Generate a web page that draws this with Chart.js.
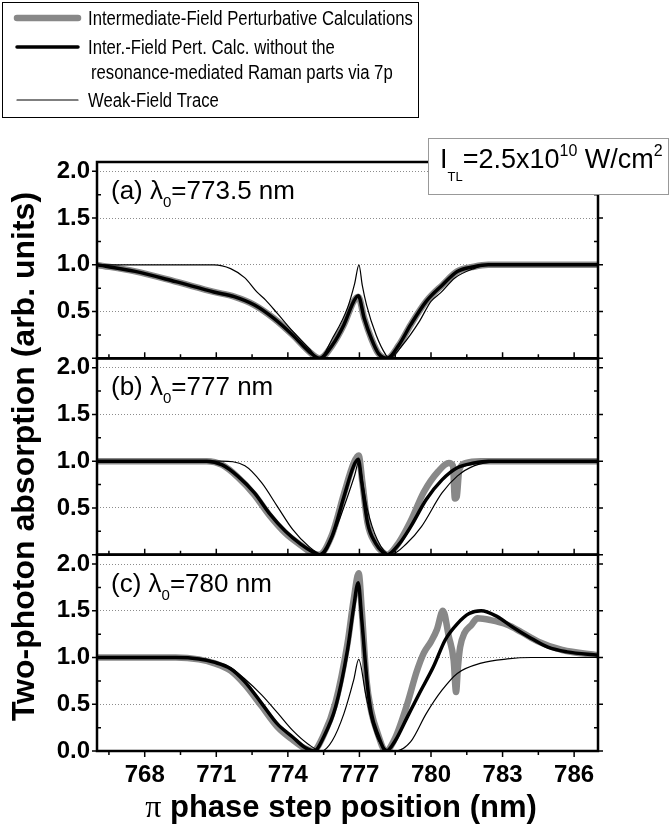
<!DOCTYPE html>
<html>
<head>
<meta charset="utf-8">
<script src="https://cdn.jsdelivr.net/npm/chart.js@4.4.1/dist/chart.umd.min.js"></script>
<style>
  html, body { margin: 0; padding: 0; background: #fff; }
  canvas { display: block; }
</style>
</head>
<body>
<canvas id="myChart" width="672" height="835"></canvas>
<script>
// panel (a), lambda0 = 773.5 nm
const aGrayX  = [766, 767.6, 769.3, 770.9, 771.75, 772.6, 773.4, 774.2, 774.9, 775.33, 775.86, 776.35, 776.76, 776.95, 777.2, 777.5, 777.8, 778.16, 778.65, 779.15, 779.8, 780.5, 781.1, 781.8, 782.4, 787];
const aGrayY  = [1.0, 0.93, 0.82, 0.71, 0.66, 0.57, 0.43, 0.25, 0.07, 0, 0.14, 0.36, 0.61, 0.66, 0.43, 0.21, 0.05, 0, 0.14, 0.36, 0.61, 0.79, 0.93, 0.98, 1.0, 1.0];
const aBlackX = [766, 767.6, 769.3, 770.9, 771.75, 772.6, 773.4, 774.2, 774.9, 775.33, 775.86, 776.35, 776.76, 776.95, 777.2, 777.5, 777.8, 778.16, 778.65, 779.15, 779.8, 780.5, 781.1, 781.8, 782.4, 787];
const aBlackY = [1.0, 0.93, 0.82, 0.71, 0.66, 0.57, 0.43, 0.25, 0.07, 0, 0.14, 0.36, 0.61, 0.67, 0.43, 0.21, 0.05, 0, 0.14, 0.36, 0.61, 0.79, 0.93, 0.98, 1.0, 1.0];
const aThinX  = [766, 770.9, 771.6, 772.2, 772.7, 773.06, 773.56, 774.2, 774.87, 775.33, 775.86, 776.5, 776.8, 776.98, 777.12, 777.3, 777.7, 778.1, 778.25, 778.8, 779.5, 780.0, 780.4, 781.0, 781.8, 782.4, 787];
const aThinY  = [1.0, 1.0, 0.96, 0.86, 0.71, 0.625, 0.48, 0.29, 0.11, 0, 0.21, 0.54, 0.8, 1.0, 0.78, 0.57, 0.25, 0.04, 0, 0.14, 0.39, 0.61, 0.70, 0.86, 0.96, 1.0, 1.0];

// panel (b), lambda0 = 777 nm
const bGrayX  = [766, 770.6, 771.25, 771.9, 772.6, 773.2, 773.9, 774.55, 775.0, 775.3, 775.86, 776.35, 776.76, 776.97, 777.12, 777.34, 777.67, 778.0, 778.16, 778.65, 779.15, 779.7, 780.3, 780.75, 780.92, 781.0, 781.08, 781.18, 781.45, 782.1, 787];
const bGrayY  = [1.0, 1.0, 0.96, 0.83, 0.64, 0.43, 0.23, 0.1, 0.02, 0, 0.22, 0.65, 0.98, 1.06, 0.78, 0.34, 0.12, 0.02, 0, 0.13, 0.36, 0.67, 0.89, 0.98, 0.95, 0.6, 0.62, 0.9, 0.98, 1.0, 1.0];
const bBlackX = [766, 770.6, 771.25, 771.9, 772.6, 773.2, 773.9, 774.55, 775.04, 775.33, 775.86, 776.35, 776.76, 776.95, 777.1, 777.34, 777.67, 778.0, 778.16, 778.65, 779.15, 779.8, 780.46, 781.1, 781.8, 782.4, 787];
const bBlackY = [1.0, 1.0, 0.96, 0.84, 0.66, 0.45, 0.25, 0.11, 0.03, 0, 0.2, 0.62, 0.95, 1.02, 0.77, 0.34, 0.125, 0.02, 0, 0.11, 0.30, 0.59, 0.80, 0.93, 0.98, 1.0, 1.0];
const bThinX  = [766, 771.2, 772.2, 772.9, 773.55, 774.2, 774.87, 775.45, 776.0, 776.5, 776.8, 776.98, 777.15, 777.34, 777.75, 778.3, 779.0, 779.6, 780.46, 781.1, 781.8, 782.75, 787];
const bThinY  = [1.0, 1.0, 0.95, 0.77, 0.52, 0.27, 0.09, 0, 0.27, 0.62, 0.85, 1.0, 0.75, 0.48, 0.16, 0, 0.125, 0.30, 0.66, 0.84, 0.95, 0.99, 1.0];

// panel (c), lambda0 = 780 nm
const cGrayX  = [766, 769.3, 770.27, 770.9, 771.6, 772.2, 772.9, 773.56, 774.2, 774.7, 775.05, 775.5, 776.0, 776.5, 776.76, 776.97, 777.1, 777.3, 777.5, 777.75, 778.1, 778.5, 779.0, 779.4, 779.7, 780.0, 780.25, 780.5, 780.75, 780.95, 781.05, 781.13, 781.22, 781.4, 781.7, 781.95, 782.5, 783.2, 783.8, 784.5, 785.5, 787];
const cGrayY  = [1.0, 1.0, 0.98, 0.94, 0.86, 0.71, 0.48, 0.26, 0.12, 0.03, 0, 0.17, 0.52, 1.15, 1.62, 1.9, 1.5, 0.75, 0.42, 0.2, 0, 0.14, 0.5, 0.85, 1.05, 1.17, 1.3, 1.5, 1.22, 0.97, 0.63, 0.9, 1.11, 1.26, 1.35, 1.42, 1.4, 1.35, 1.27, 1.17, 1.08, 1.025];
const cBlackX = [766, 769.3, 770.27, 770.9, 771.6, 772.2, 772.9, 773.56, 774.2, 774.7, 775.1, 775.5, 776.0, 776.5, 776.76, 776.95, 777.1, 777.34, 777.5, 777.75, 778.13, 778.5, 779.0, 779.5, 780.1, 780.6, 781.1, 781.6, 782.1, 782.76, 783.4, 784.1, 784.9, 785.7, 787];
const cBlackY = [1.0, 1.0, 0.985, 0.95, 0.88, 0.74, 0.51, 0.29, 0.15, 0.04, 0, 0.15, 0.47, 1.08, 1.54, 1.8, 1.4, 0.69, 0.4, 0.19, 0, 0.11, 0.36, 0.61, 0.9, 1.19, 1.36, 1.47, 1.5, 1.44, 1.33, 1.22, 1.11, 1.06, 1.025];
const cThinX  = [766, 770.3, 770.9, 771.6, 772.2, 772.9, 773.56, 774.2, 774.87, 775.4, 775.86, 776.35, 776.76, 776.97, 777.26, 777.5, 777.8, 778.5, 779.15, 779.8, 780.46, 781.1, 782.1, 783.2, 784.2, 787];
const cThinY  = [1.0, 0.99, 0.96, 0.89, 0.77, 0.6, 0.41, 0.22, 0.07, 0, 0.11, 0.4, 0.76, 0.98, 0.61, 0.33, 0.11, 0, 0.1, 0.4, 0.65, 0.83, 0.94, 0.985, 1.0, 1.0];

// ticks and labels
const xTicks = [768, 771, 774, 777, 780, 783, 786];
const xMinorTicks = [766.5, 769.5, 772.5, 775.5, 778.5, 781.5, 784.5];
const yTicks = [0, 0.5, 1.0, 1.5, 2.0];
const yMinorTicks = [0.25, 0.75, 1.25, 1.75];
const panelIds = ['ya', 'yb', 'yc'];
const panelNames = ['(a) λ', '(b) λ', '(c) λ'];
const panelLambda = ['=773.5 nm', '=777 nm', '=780 nm'];
const seriesNames = ['Intermediate-Field Perturbative Calculations',
  'Inter.-Field Pert. Calc. without the',
  'Weak-Field Trace'];

const FONT = '"Liberation Sans", Arial, sans-serif';

function pts(xs, ys) {
  return xs.map((x, i) => ({x: x, y: ys[i]}));
}

function trio(gx, gy, bx, by, tx, ty, axis) {
  const common = {yAxisID: axis, pointRadius: 0, cubicInterpolationMode: 'monotone',
    borderJoinStyle: 'round', borderCapStyle: 'round', fill: false};
  return [
    Object.assign({label: seriesNames[0], data: pts(gx, gy), borderColor: '#888888', borderWidth: 6.5, order: 3}, common),
    Object.assign({label: seriesNames[1], data: pts(bx, by), borderColor: '#000000', borderWidth: 3.5, order: 2}, common),
    Object.assign({label: seriesNames[2], data: pts(tx, ty), borderColor: '#000000', borderWidth: 1.2, order: 1}, common)
  ];
}

function yAxis(showZero) {
  return {
    type: 'linear',
    position: 'left',
    stack: 'panels',
    stackWeight: 1,
    min: 0,
    max: 2.1,
    afterBuildTicks: s => { s.ticks = yTicks.map(v => ({value: v})); },
    afterFit: s => { s.width = 97; },
    border: {display: false, dash: [1, 2]},
    grid: {
      drawTicks: false,
      color: c => (c.tick && c.tick.value > 0) ? '#8c8c8c' : 'rgba(0,0,0,0)',
      lineWidth: 1
    },
    ticks: {
      autoSkip: false,
      padding: 7,
      color: '#000',
      font: {family: FONT, size: 24, weight: 'bold'},
      callback: v => (v === 0 && !showZero) ? '' : v.toFixed(1)
    }
  };
}

function drawRich(ctx, parts, x, y) {
  parts.forEach(p => {
    ctx.font = (p.bold ? 'bold ' : '') + p.size + 'px ' + (p.family || FONT);
    ctx.fillText(p.t, x, y + (p.dy || 0));
    x += ctx.measureText(p.t).width;
  });
  return x;
}

function richWidth(ctx, parts) {
  let w = 0;
  parts.forEach(p => {
    ctx.font = (p.bold ? 'bold ' : '') + p.size + 'px ' + (p.family || FONT);
    w += ctx.measureText(p.t).width;
  });
  return w;
}

// narrow legend text: squeeze the regular face horizontally
function narrowText(ctx, text, x, y) {
  ctx.save();
  ctx.translate(x, y);
  ctx.scale(0.835, 1);
  ctx.fillText(text, 0, 0);
  ctx.restore();
}

const panelPlugin = {
  id: 'panels',
  afterDraw(chart) {
    const ctx = chart.ctx;
    const xs = chart.scales.x;
    const {left, right} = chart.chartArea;
    ctx.save();
    ctx.fillStyle = '#000';
    ctx.strokeStyle = '#000';
    ctx.textBaseline = 'alphabetic';
    ctx.textAlign = 'left';

    panelIds.forEach((id, i) => {
      const s = chart.scales[id];
      const top = s.top, bottom = s.bottom;
      const last = i === panelIds.length - 1;
      ctx.lineWidth = 1.5;
      ctx.beginPath();
      yTicks.forEach(v => {
        const py = s.getPixelForValue(v);
        ctx.moveTo(left - 5, py); ctx.lineTo(left, py);
        ctx.moveTo(right, py); ctx.lineTo(right + 5, py);
      });
      yMinorTicks.forEach(v => {
        const py = s.getPixelForValue(v);
        ctx.moveTo(left, py); ctx.lineTo(left + 4, py);
        ctx.moveTo(right - 4, py); ctx.lineTo(right, py);
      });
      const dir = last ? 1 : -1;
      xTicks.forEach(v => {
        const px = xs.getPixelForValue(v);
        ctx.moveTo(px, bottom); ctx.lineTo(px, bottom + dir * 6);
      });
      xMinorTicks.forEach(v => {
        const px = xs.getPixelForValue(v);
        ctx.moveTo(px, bottom); ctx.lineTo(px, bottom + dir * 4);
      });
      ctx.stroke();

      ctx.lineWidth = 2.5;
      ctx.strokeRect(left, top, right - left, bottom - top);

      drawRich(ctx, [
        {t: panelNames[i], size: 26},
        {t: '0', size: 15, dy: 8},
        {t: panelLambda[i], size: 26}
      ], 111, top + 37);
    });

    // y title
    ctx.save();
    ctx.translate(25, (chart.chartArea.top + chart.chartArea.bottom) / 2);
    ctx.rotate(-Math.PI / 2);
    ctx.textAlign = 'center';
    ctx.textBaseline = 'middle';
    ctx.font = 'bold 32px ' + FONT;
    ctx.fillText('Two-photon absorption (arb. units)', 0, 0);
    ctx.restore();

    // x title
    const xParts = [
      {t: 'π', size: 32, family: '"Liberation Serif", "DejaVu Serif", serif'},
      {t: ' phase step position (nm)', size: 31, bold: true}
    ];
    const xw = richWidth(ctx, xParts);
    drawRich(ctx, xParts, 341 - xw / 2, 817);

    // intensity box
    ctx.fillStyle = '#fff';
    ctx.fillRect(428, 138, 241, 57);
    ctx.strokeStyle = '#999';
    ctx.lineWidth = 1;
    ctx.strokeRect(428.5, 138.5, 240, 56);
    ctx.fillStyle = '#000';
    drawRich(ctx, [
      {t: 'I', size: 27},
      {t: 'TL', size: 13, dy: 13},
      {t: '=2.5x10', size: 27},
      {t: '10', size: 16, dy: -12},
      {t: ' W/cm', size: 27},
      {t: '2', size: 16, dy: -12}
    ], 440, 168);

    // legend
    const ds = chart.data.datasets;
    ctx.strokeStyle = '#000';
    ctx.lineWidth = 1;
    ctx.strokeRect(2.5, 2.5, 416, 115);
    const rows = [18, 47, 100];
    rows.forEach((ry, k) => {
      ctx.strokeStyle = ds[k].borderColor;
      ctx.lineWidth = ds[k].borderWidth;
      ctx.lineCap = 'round';
      ctx.beginPath();
      ctx.moveTo(17, ry); ctx.lineTo(78, ry);
      ctx.stroke();
    });
    ctx.font = '20px ' + FONT;
    ctx.textBaseline = 'middle';
    narrowText(ctx, seriesNames[0], 88, 19);
    narrowText(ctx, seriesNames[1], 88, 48);
    narrowText(ctx, 'resonance-mediated Raman parts via 7p', 91, 73);
    narrowText(ctx, seriesNames[2], 88, 101);
    ctx.restore();
  }
};

const data = {
  datasets: [].concat(
    trio(aGrayX, aGrayY, aBlackX, aBlackY, aThinX, aThinY, 'ya'),
    trio(bGrayX, bGrayY, bBlackX, bBlackY, bThinX, bThinY, 'yb'),
    trio(cGrayX, cGrayY, cBlackX, cBlackY, cThinX, cThinY, 'yc')
  )
};

const config = {
  type: 'line',
  data: data,
  options: {
    responsive: false,
    animation: false,
    devicePixelRatio: 1,
    layout: {padding: {left: 0, right: 74, top: 162, bottom: 0}},
    plugins: {legend: {display: false}, tooltip: {enabled: false}},
    scales: {
      x: {
        type: 'linear',
        min: 766,
        max: 787,
        afterBuildTicks: s => { s.ticks = xTicks.map(v => ({value: v})); },
        afterFit: s => { s.height = 84; },
        border: {display: false},
        grid: {display: false},
        ticks: {
          autoSkip: false,
          maxRotation: 0,
          padding: 2,
          color: '#000',
          font: {family: FONT, size: 24, weight: 'bold'},
          callback: v => String(v)
        }
      },
      // stacked axes are laid out bottom-up, so the lowest panel comes first
      yc: yAxis(true),
      yb: yAxis(false),
      ya: yAxis(false)
    }
  },
  plugins: [panelPlugin]
};

const myChart = new Chart(document.getElementById('myChart'), config);
</script>
</body>
</html>
